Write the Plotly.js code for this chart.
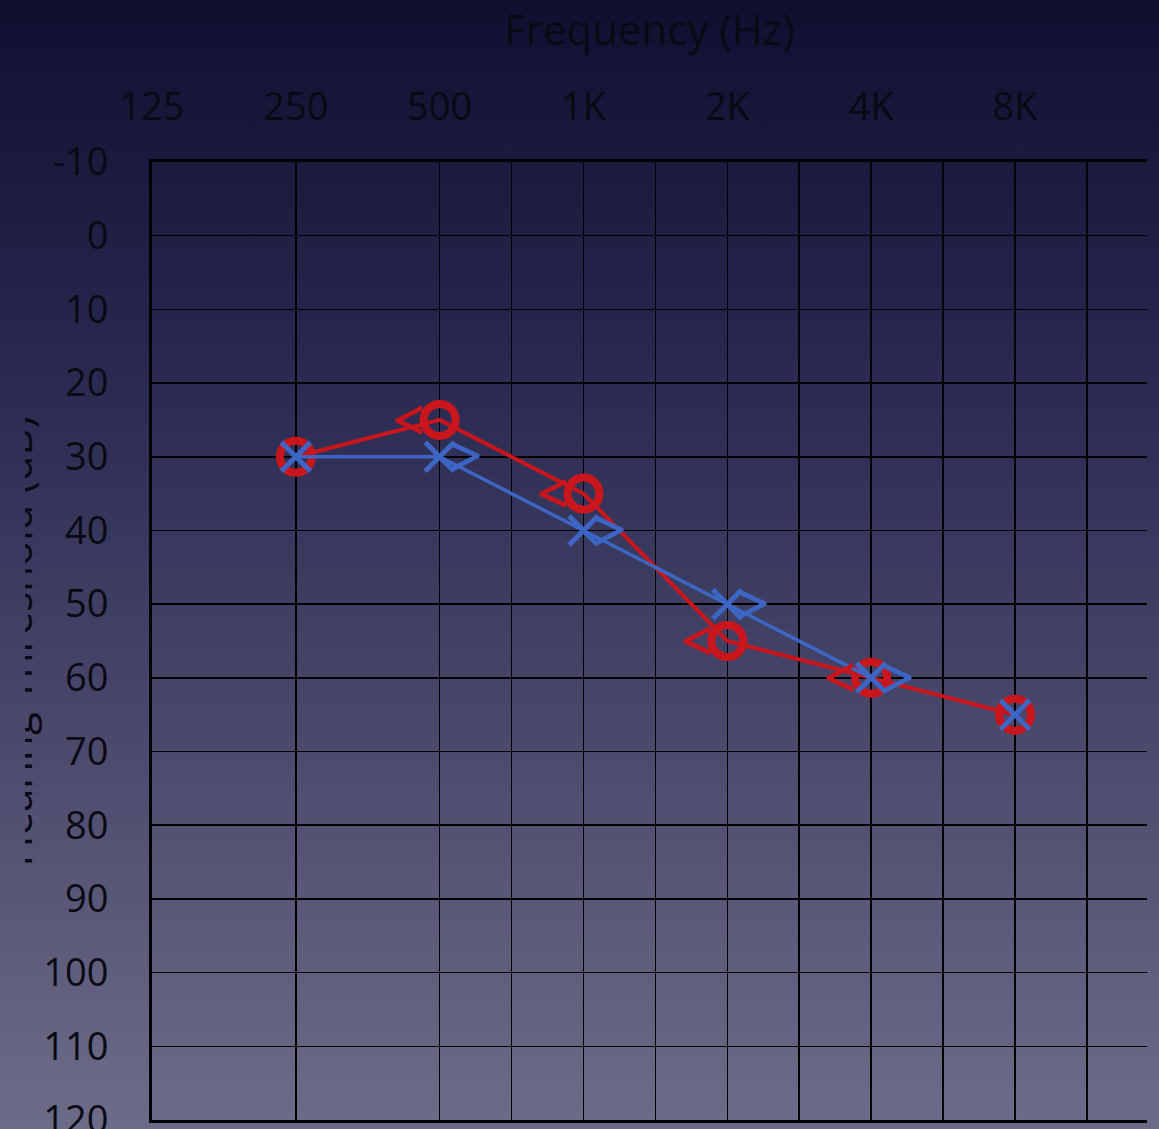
<!DOCTYPE html>
<html>
<head>
<meta charset="utf-8">
<script src="https://cdn.plot.ly/plotly-3.0.1.min.js"></script>
<style>
html,body{margin:0;padding:0;overflow:hidden;background:#2c2c52;}
#wrap{position:relative;width:1159px;height:1129px;background:linear-gradient(to bottom,#0f0f30 0%,#2b2b53 35%,#4a496c 65%,#6d6c88 100%);}
#chart{position:absolute;left:0;top:0;width:1159px;height:1129px;}
#mask{position:absolute;left:0;top:0;width:25px;height:1129px;background:linear-gradient(to bottom,#0f0f30 0%,#2b2b53 35%,#4a496c 65%,#6d6c88 100%);pointer-events:none;}
</style>
</head>
<body>
<div id="wrap"><div id="chart"></div><div id="mask"></div></div>
<script>
// Grid / tick positions along the frequency axis (Hz) and their labels
const gridHz = [125, 250, 500, 707.1, 1000, 1414.2, 2000, 2828.4, 4000, 5656.9, 8000, 11313.7];
const gridLabels = ['125', '250', '500', '', '1K', '', '2K', '', '4K', '', '8K', ''];

// Threshold axis ticks
const dbTicks = [-10, 0, 10, 20, 30, 40, 50, 60, 70, 80, 90, 100, 110, 120];
const dbLabels = ['-10', '0', '10', '20', '30', '40', '50', '60', '70', '80', '90', '100', '110', '120'];

// Air conduction tests
const airHz = [250, 500, 1000, 2000, 4000, 8000];
const rightAirDb = [30, 25, 35, 55, 60, 65];   // red O
const leftAirDb = [30, 30, 40, 50, 60, 65];    // blue X
const leftLineCount = 5;                       // blue line drawn 250 Hz .. 4K

// Bone conduction tests
const boneHz = [500, 1000, 2000, 4000];
const rightBoneDb = [25, 35, 55, 60];          // red <
const leftBoneDb = [30, 40, 50, 60];           // blue >

const RED = '#c8161c';
const BLUE = '#3d66c4';

const traces = [
  {
    name: 'Right ear (air)', x: airHz, y: rightAirDb, type: 'scatter', mode: 'lines+markers',
    line: {color: RED, width: 4},
    marker: {symbol: 'circle-open', size: 32, color: RED, line: {width: 8}}
  },
  {
    name: 'Left ear (air) line', x: airHz.slice(0, leftLineCount), y: leftAirDb.slice(0, leftLineCount),
    type: 'scatter', mode: 'lines',
    line: {color: BLUE, width: 3.5}
  },
  {
    name: 'Left ear (air)', x: airHz, y: leftAirDb, type: 'scatter', mode: 'markers',
    marker: {symbol: 'x-thin-open', size: 29, color: BLUE, line: {width: 5}}
  }
];

// Bone conduction chevrons placed at the data points through the axes
const annotations = [];
boneHz.forEach((hz, i) => {
  annotations.push({
    x: Math.log10(hz), y: rightBoneDb[i], xref: 'x', yref: 'y', text: '^', textangle: -90, showarrow: false,
    xanchor: 'center', yanchor: 'middle', xshift: -25,
    font: {family: 'Open Sans', size: 58, weight: 600, color: RED}
  });
  annotations.push({
    x: Math.log10(hz), y: leftBoneDb[i], xref: 'x', yref: 'y', text: '^', textangle: 90, showarrow: false,
    xanchor: 'center', yanchor: 'middle', xshift: 21,
    font: {family: 'Open Sans', size: 58, weight: 600, color: BLUE}
  });
});

// Y axis title (partly outside the page on the left, as in the original)
annotations.push({
  x: -0.1075, xref: 'paper', y: 0.5, yref: 'paper', text: 'Hearing Threshold (dB)', textangle: -90,
  showarrow: false, xanchor: 'right', yanchor: 'middle',
  font: {family: 'Open Sans', size: 42, color: '#0a0a12'}
});

const layout = {
  width: 1159, height: 1129,
  margin: {l: 152, r: 12, t: 162, b: 9, pad: 0},
  paper_bgcolor: 'rgba(0,0,0,0)',
  plot_bgcolor: 'rgba(0,0,0,0)',
  showlegend: false,
  font: {family: 'Open Sans', color: '#0a0a12'},
  annotations: annotations,
  xaxis: {
    type: 'log', range: [Math.log10(125), 4.1794], side: 'top',
    tickmode: 'array', tickvals: gridHz, ticktext: gridLabels,
    showgrid: true, gridcolor: '#000', gridwidth: 1.5, zeroline: false,
    showline: true, mirror: true, linecolor: '#000', linewidth: 3,
    ticks: 'outside', ticklen: 24, tickcolor: 'rgba(0,0,0,0)',
    tickfont: {size: 38, color: '#0a0a12'},
    title: {text: 'Frequency (Hz)', font: {size: 42, color: '#0a0a12'}, standoff: 30},
    fixedrange: true
  },
  yaxis: {
    range: [120, -10],
    tickmode: 'array', tickvals: dbTicks, ticktext: dbLabels,
    showgrid: true, gridcolor: '#000', gridwidth: 1.5, zeroline: false,
    showline: true, linecolor: '#000', linewidth: 3,
    ticks: 'outside', ticklen: 33, tickcolor: 'rgba(0,0,0,0)',
    ticklabeloverflow: 'allow',
    tickfont: {size: 38, color: '#0a0a12'},
    fixedrange: true
  }
};

Plotly.newPlot('chart', traces, layout, {displayModeBar: false, staticPlot: true});
</script>
</body>
</html>
